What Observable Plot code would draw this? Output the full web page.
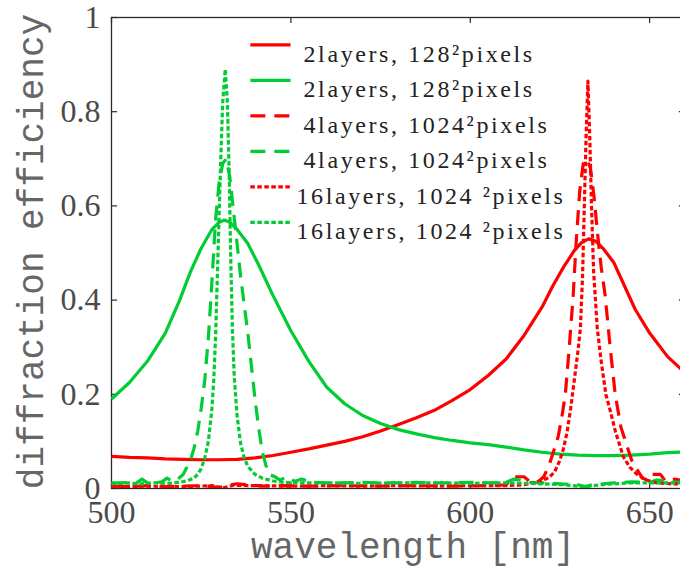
<!DOCTYPE html>
<html><head><meta charset="utf-8">
<script src="https://cdn.jsdelivr.net/npm/d3@7"></script>
<script src="https://cdn.jsdelivr.net/npm/@observablehq/plot@0.6"></script>
<style>body{margin:0;background:#fff}</style>
</head><body><div id="chart"></div>
<script>
// ---- data: [wavelength nm, diffraction efficiency] ----
const red2 = [[500,.068],[505,.066],[510,.065],[515,.063],[520,.062],[525,.061],[530,.061],[535,.062],[540,.065],[545,.070],[550,.077],[555,.084],[560,.092],[565,.100],[570,.110],[575,.122],[580,.136],[585,.150],[590,.166],[595,.187],[600,.210],[605,.240],[610,.275],[615,.325],[620,.385],[623,.43],[626,.47],[629,.505],[631,.522],[633,.53],[635,.525],[637,.51],[640,.48],[643,.43],[646,.38],[650,.33],[655,.28],[660,.245]];
const green2 = [[500,.19],[505,.225],[510,.27],[515,.33],[519,.40],[522,.46],[525,.51],[528,.55],[530,.565],[531.5,.57],[533,.565],[535,.55],[538,.52],[541,.475],[545,.41],[550,.335],[555,.27],[560,.215],[565,.18],[570,.155],[575,.138],[580,.125],[585,.116],[590,.108],[595,.102],[600,.097],[605,.093],[610,.088],[615,.082],[620,.077],[625,.073],[630,.071],[635,.070],[640,.070],[645,.071],[650,.073],[655,.076],[660,.078]];
const red4 = [[500,.005],[505,.004],[510,.006],[515,.004],[520,.005],[525,.006],[528,.004],[530,.002],[532,.006],[535,.01],[538,.008],[542,.005],[548,.006],[555,.005],[565,.006],[575,.005],[585,.006],[595,.005],[605,.006],[610,.008],[612,.025],[615,.025],[617,.012],[619,.015],[620.5,.025],[622,.05],[623.5,.085],[624.5,.11],[625.5,.15],[626.5,.20],[627.5,.29],[628.7,.41],[629.5,.52],[630.5,.63],[631.5,.69],[632.5,.70],[633.5,.68],[634.5,.62],[635.5,.54],[636.5,.47],[637.6,.41],[639,.30],[640.4,.20],[642,.13],[643.7,.09],[645,.06],[646.5,.04],[648,.022],[649.5,.018],[650.5,.03],[653,.03],[654.5,.015],[657,.02],[660,.015]];
const green4 = [[500,.012],[503,.012],[505,.013],[507,.012],[508.5,.02],[510,.012],[512,.012],[514,.014],[515.5,.022],[517,.015],[518.5,.02],[520,.03],[521,.045],[522,.06],[523,.085],[524,.12],[525,.17],[526,.23],[527,.32],[528,.44],[529,.57],[530,.65],[531,.69],[532,.70],[533,.66],[534,.59],[535,.52],[536,.45],[537,.39],[538,.33],[539,.26],[540,.19],[541,.13],[542,.08],[543,.05],[544,.03],[545.5,.025],[547,.018],[549,.025],[551,.015],[553,.02],[556,.013],[560,.012],[565,.012],[570,.013],[575,.012],[580,.012],[585,.013],[590,.012],[595,.012],[600,.013],[605,.012],[610,.013],[612,.02],[614,.018],[616,.013],[620,.012],[625,.01],[630,.008],[632,.004],[634,.008],[637,.01],[640,.012],[645,.014],[650,.013],[652,.018],[654,.017],[657,.013],[660,.014]];
const red16 = [[500,.004],[510,.005],[520,.004],[528,.006],[531,.001],[534,.007],[540,.006],[550,.005],[560,.006],[570,.005],[580,.006],[590,.005],[600,.006],[610,.006],[615,.008],[618,.012],[620,.016],[622,.024],[623.5,.035],[625,.06],[626,.085],[627,.12],[628,.17],[629,.23],[630,.29],[630.7,.34],[631.3,.45],[631.8,.60],[632.3,.75],[632.8,.865],[633.3,.75],[633.8,.60],[634.4,.46],[635.4,.34],[636.5,.27],[637.8,.20],[639,.166],[640.5,.12],[642.7,.067],[644.5,.045],[646.5,.03],[649,.018],[652,.012],[656,.01],[660,.01]];
const green16 = [[500,.01],[504,.012],[508,.01],[512,.012],[516,.011],[519,.013],[521,.016],[523,.022],[524,.03],[525,.042],[526,.065],[527,.10],[528,.17],[528.5,.23],[529,.32],[529.5,.45],[530,.58],[530.5,.71],[531,.82],[531.7,.89],[532.3,.82],[532.8,.67],[533.2,.50],[533.7,.34],[534.2,.24],[535,.155],[536,.095],[537,.065],[538,.047],[540,.03],[542,.022],[545,.016],[548,.013],[552,.012],[560,.012],[570,.011],[580,.012],[590,.012],[600,.011],[610,.012],[620,.01],[626,.008],[630,.005],[632,.003],[634,.006],[638,.009],[645,.012],[652,.012],[660,.012]];

const legendLabels = ["2layers, 128\u00B2pixels","2layers, 128\u00B2pixels","4layers, 1024\u00B2pixels","4layers, 1024\u00B2pixels","16layers, 1024 \u00B2pixels","16layers, 1024 \u00B2pixels"];
const xTicks = [500, 550, 600, 650];
const xTickLabels = ["500","550","600","650"];
const yTicks = [0, 0.2, 0.4, 0.6, 0.8, 1];
const yTickLabels = ["0","0.2","0.4","0.6","0.8","1"];
const xLabel = "wavelength [nm]";
const yLabel = "diffraction efficiency";

// ---- styling ----
const RED = "#ff0000", GREEN = "#00cc33";
const DASH = "15,9", DOT = "4.5,2.5";
const series = [
  {data: red2, color: RED, dash: null, label: legendLabels[0]},
  {data: green2, color: GREEN, dash: null, label: legendLabels[1]},
  {data: red4, color: RED, dash: DASH, label: legendLabels[2]},
  {data: green4, color: GREEN, dash: DASH, label: legendLabels[3]},
  {data: red16, color: RED, dash: DOT, label: legendLabels[4]},
  {data: green16, color: GREEN, dash: DOT, label: legendLabels[5]}
];

const X0 = 500, X1 = 660;
const tickLenY = 0.013, tickLenX = 1.7;
// legend placement (data units)
const legX1 = 538.7, legX2 = 549.9, legY0 = 0.942, legStep = 0.0754;

const serif = "Liberation Serif";
const mono = "Liberation Mono";

const marks = [
  Plot.frame({stroke: "#2a2a2a", strokeWidth: 1.3}),
  Plot.ruleX(xTicks, {x: d => d, y1: 0, y2: tickLenY, stroke: "#2a2a2a", strokeWidth: 1.2}),
  Plot.ruleX(xTicks, {x: d => d, y1: 1 - tickLenY, y2: 1, stroke: "#2a2a2a", strokeWidth: 1.2}),
  Plot.ruleY(yTicks, {y: d => d, x1: X0, x2: X0 + tickLenX, stroke: "#2a2a2a", strokeWidth: 1.2}),
  Plot.ruleY(yTicks, {y: d => d, x1: X1 - tickLenX, x2: X1, stroke: "#2a2a2a", strokeWidth: 1.2}),
];
series.forEach(s => {
  marks.push(Plot.line(s.data, {x: d => d[0], y: d => d[1], stroke: s.color, strokeWidth: 3.2,
    strokeDasharray: s.dash, strokeLinecap: "butt", strokeLinejoin: "round", clip: true}));
});
series.forEach((s, i) => {
  const ly = legY0 - i * legStep;
  marks.push(Plot.line([[legX1, ly], [legX2, ly]], {x: d => d[0], y: d => d[1], stroke: s.color,
    strokeWidth: 3.2, strokeDasharray: s.dash, strokeLinecap: "butt"}));
  marks.push(Plot.text([s.label], {x: legX2, y: ly, text: d => d, textAnchor: "start", lineAnchor: "middle",
    dx: i >= 4 ? 6 : 13, dy: 9, fontSize: 24, fontFamily: serif, fill: "#222"}));
});
marks.push(
  Plot.text(xTicks, {x: d => d, y: 0, text: (d, i) => xTickLabels[i], lineAnchor: "middle", dy: 24, fontSize: 32, fontFamily: serif, fill: "#4a4a4a"}),
  Plot.text(yTicks, {x: X0, y: d => d, text: (d, i) => yTickLabels[i], textAnchor: "end", lineAnchor: "middle", dx: -11, fontSize: 32, fontFamily: serif, fill: "#4a4a4a"}),
  Plot.text([xLabel], {frameAnchor: "bottom", text: d => d, textAnchor: "middle", lineAnchor: "middle", dx: 14.5, dy: 58, fontSize: 36, fontFamily: mono, fill: "#666"}),
  Plot.text([yLabel], {frameAnchor: "left", text: d => d, rotate: -90, textAnchor: "middle", lineAnchor: "middle", dx: -80.5, dy: -1.5, fontSize: 36, fontFamily: mono, fill: "#666"})
);

const chart = Plot.plot({
  width: 680, height: 574,
  marginLeft: 111, marginRight: -5, marginTop: 17, marginBottom: 86,
  x: {domain: [X0, X1], axis: null},
  y: {domain: [0, 1], axis: null},
  style: {background: "#fff", overflow: "hidden", fontFamily: serif},
  marks
});
chart.querySelectorAll("text").forEach(t => {
  if (t.textContent.includes("layers")) t.setAttribute("letter-spacing", "2.6");
});
document.getElementById("chart").appendChild(chart);
</script></body></html>
